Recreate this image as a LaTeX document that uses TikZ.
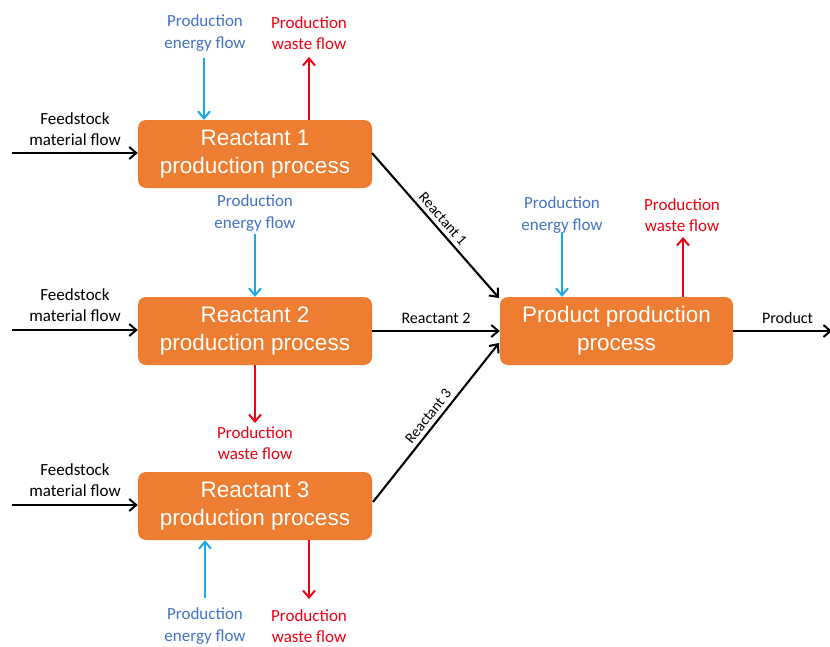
\documentclass[tikz,border=0pt]{standalone}
\usepackage{fontspec}
\setmainfont{Carlito}
\newfontfamily\boxfont{Liberation Sans}
\usetikzlibrary{arrows.meta}
\definecolor{procorange}{HTML}{ED7D31}
\definecolor{energytext}{HTML}{4472C4}
\definecolor{energyline}{HTML}{1AA7EC}
\definecolor{wastered}{HTML}{F00012}
\tikzset{
  process/.style={fill=procorange, rounded corners=8pt, minimum width=234pt, minimum height=68pt,
    text=white, font=\boxfont\fontsize{22.5}{28}\selectfont, align=center, inner sep=0pt},
  lbl/.style={font=\fontsize{17}{21.5}\selectfont, align=center, inner sep=1pt},
  energylbl/.style={lbl, text=energytext},
  wastelbl/.style={lbl, text=wastered},
  flowarrow/.style={line width=2.1pt, -{Straight Barb[length=7pt,width=12pt,line width=2pt]}},
  matflow/.style={flowarrow, black},
  energyflow/.style={flowarrow, energyline},
  wasteflow/.style={flowarrow, wastered}
}
\begin{document}
\begin{tikzpicture}[x=1pt,y=-1pt]
\useasboundingbox (0,0) rectangle (830,646);

% process boxes
\node[process] (r1) at (255,154) {Reactant 1\\production process};
\node[process] (r2) at (255,331) {Reactant 2\\production process};
\node[process] (r3) at (255,506) {Reactant 3\\production process};
\node[process, minimum width=233pt] (pp) at (616.5,331) {Product production\\process};

% feedstock inputs
\coordinate (f1) at (12,153);
\coordinate (f2) at (12,330);
\coordinate (f3) at (12,505);
\draw[matflow] (f1) -- (r1.west |- f1);
\draw[matflow] (f2) -- (r2.west |- f2);
\draw[matflow] (f3) -- (r3.west |- f3);
\node[lbl] (fl1) at (75,129) {Feedstock\\material flow};
\node[lbl] (fl2) at (75,305) {Feedstock\\material flow};
\node[lbl] (fl3) at (75,480) {Feedstock\\material flow};

% reactant 1 energy and waste
\node[energylbl] (e1) at (205,33) {Production\\energy flow};
\node[wastelbl] (w1) at (309,33) {Production\\waste flow};
\coordinate (e1s) at (204,58);
\coordinate (w1e) at (309,57);
\draw[energyflow] (e1s) -- (r1.north -| e1s);
\draw[wasteflow] (r1.north -| w1e) -- (w1e);

% reactant 2 energy and waste
\node[energylbl] (e2) at (255,213) {Production\\energy flow};
\node[wastelbl] (w2) at (255,443) {Production\\waste flow};
\coordinate (e2s) at (255,234);
\coordinate (w2e) at (255,423);
\draw[energyflow] (e2s) -- (r2.north);
\draw[wasteflow] (r2.south) -- (w2e);

% reactant 3 energy and waste
\node[energylbl] (e3) at (205,626) {Production\\energy flow};
\node[wastelbl] (w3) at (309,626) {Production\\waste flow};
\coordinate (e3s) at (205,598);
\coordinate (w3e) at (309,599);
\draw[energyflow] (e3s) -- (r3.south -| e3s);
\draw[wasteflow] (r3.south -| w3e) -- (w3e);

% product process energy and waste
\node[energylbl] (e4) at (562,215) {Production\\energy flow};
\node[wastelbl] (w4) at (682,215) {Production\\waste flow};
\coordinate (e4s) at (562,232);
\coordinate (w4e) at (683,237);
\draw[energyflow] (e4s) -- (pp.north -| e4s);
\draw[wasteflow] (pp.north -| w4e) -- (w4e);

% reactant streams into the product process
\coordinate (r1o) at (372,153);
\coordinate (r3o) at (373,502);
\coordinate (p1) at (499,298);
\coordinate (p3) at (499,343);
\draw[matflow] (r1o) -- node[lbl, sloped, above=3pt, font=\fontsize{15}{16}\selectfont] (lr1) {Reactant 1} (p1);
\draw[matflow] (r2.east) -- node[lbl, above=5pt, font=\fontsize{16}{16}\selectfont] (lr2) {Reactant 2} (pp.west);
\draw[matflow] (r3o) -- node[lbl, sloped, above=3pt, font=\fontsize{15}{16}\selectfont] (lr3) {Reactant 3} (p3);

% product output
\coordinate (out) at (832,331);
\draw[matflow] (pp.east) -- node[lbl, above=5pt, pos=0.55, font=\fontsize{16}{16}\selectfont] (lp) {Product} (out);
\end{tikzpicture}
\end{document}
